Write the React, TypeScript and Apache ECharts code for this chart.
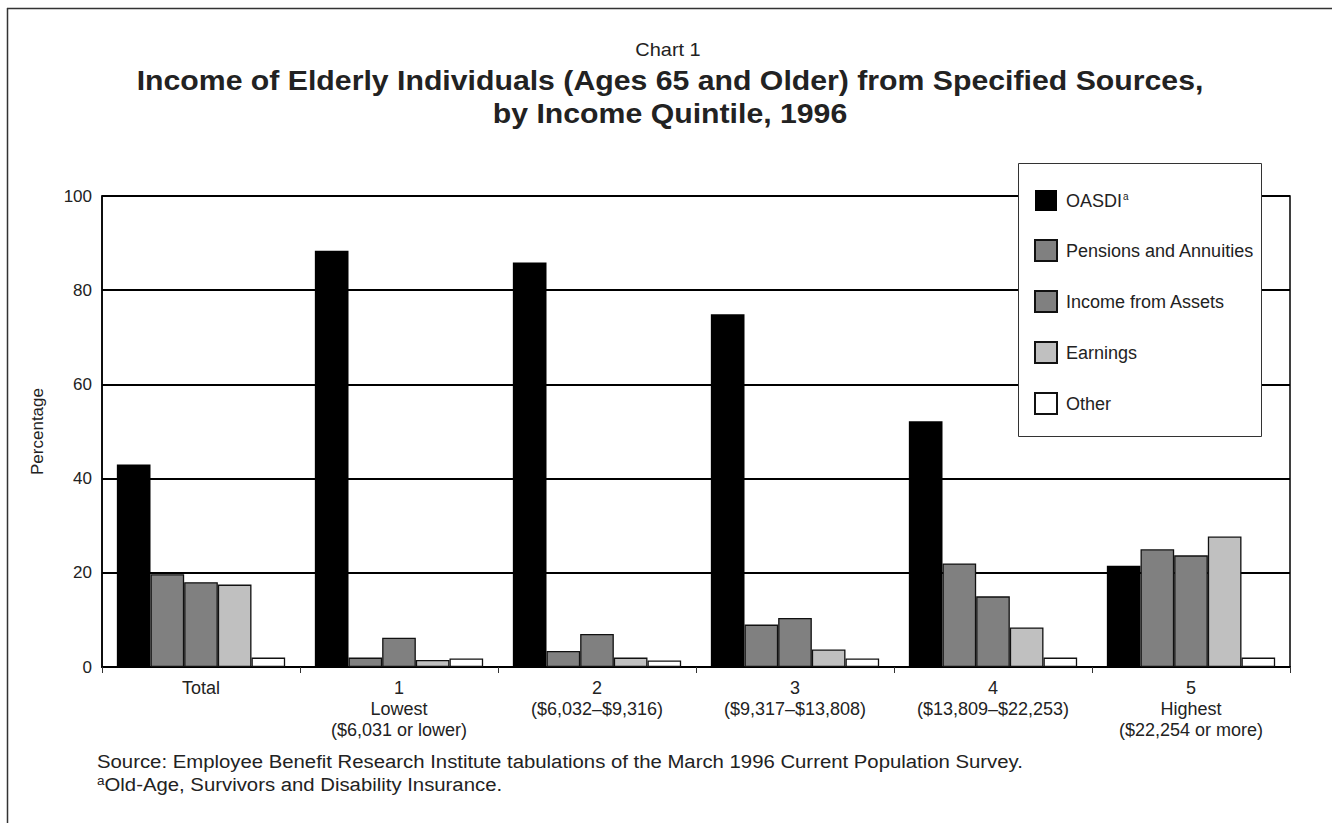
import React, { useEffect, useRef } from "react";
import * as echarts from "echarts";

const categories = [
  "Total",
  "1\nLowest\n($6,031 or lower)",
  "2\n($6,032–$9,316)",
  "3\n($9,317–$13,808)",
  "4\n($13,809–$22,253)",
  "5\nHighest\n($22,254 or more)",
];
const seriesNames = ["OASDI", "Pensions and Annuities", "Income from Assets", "Earnings", "Other"];
const oasdi = [43.0, 88.4, 85.9, 74.9, 52.2, 21.5];
const pensions = [19.7, 2.0, 3.4, 9.0, 22.0, 25.0];
const assets = [18.0, 6.2, 7.0, 10.4, 15.0, 23.7];
const earnings = [17.5, 1.5, 2.0, 3.7, 8.4, 27.7];
const other = [2.0, 1.8, 1.4, 1.8, 2.0, 2.0];
const seriesData = [oasdi, pensions, assets, earnings, other];
const colors = ["#000000", "#808080", "#808080", "#c0c0c0", "#ffffff"];
const yTicks = { min: 0, max: 100, interval: 20 };

const FONT = "'Liberation Sans', Arial, Helvetica, sans-serif";
const TXT = "#222222";

export default function App() {
  const ref = useRef<HTMLDivElement>(null);
  useEffect(() => {
    if (!ref.current) return;
    const chart = echarts.init(ref.current, undefined, { renderer: "svg" });
    const option: any = {
      animation: false,
      backgroundColor: "#ffffff",
      textStyle: { fontFamily: FONT },
      grid: {
        left: 102,
        right: 42,
        top: 196,
        bottom: 156,
        show: true,
        borderColor: "#000",
        borderWidth: 1.5,
      },
      legend: {
        orient: "vertical",
        left: 1034,
        top: 190,
        padding: 0,
        itemGap: 28,
        itemWidth: 22,
        itemHeight: 21,
        icon: "rect",
        z: 200,
        data: seriesNames,
        textStyle: {
          fontFamily: FONT,
          fontSize: 18,
          color: TXT,
          padding: [0, 0, 0, 4],
          rich: {
            n: { fontFamily: FONT, fontSize: 18, color: TXT },
            s: { fontFamily: FONT, fontSize: 10, color: TXT, verticalAlign: "top", padding: [0, 0, 9, 1] },
          },
        },
        formatter: (name: string) => (name === "OASDI" ? "{n|OASDI}{s|a}" : name),
      },
      xAxis: {
        type: "category",
        data: categories,
        axisLine: { show: true, lineStyle: { color: "#000", width: 2 } },
        axisTick: { show: true, length: 6, lineStyle: { color: "#333", width: 1 } },
        axisLabel: { fontFamily: FONT, fontSize: 18, color: TXT, lineHeight: 21, margin: 10, interval: 0 },
      },
      yAxis: {
        type: "value",
        min: yTicks.min,
        max: yTicks.max,
        interval: yTicks.interval,
        name: "Percentage",
        nameLocation: "middle",
        nameRotate: 90,
        nameGap: 56,
        nameTextStyle: { fontFamily: FONT, fontSize: 17, color: TXT },
        axisLine: { show: true, lineStyle: { color: "#000", width: 1.5 } },
        axisTick: { show: false },
        axisLabel: { fontFamily: FONT, fontSize: 17, color: TXT, margin: 10 },
        splitLine: { show: true, lineStyle: { color: "#000", width: 2.2 } },
      },
      series: seriesNames.map((name, i) => ({
        name,
        type: "bar",
        data: seriesData[i],
        barGap: "0%",
        barCategoryGap: "15%",
        itemStyle: {
          color: colors[i],
          borderColor: "#111",
          borderWidth: i === 0 ? 0 : 1.3,
        },
      })),
      graphic: [
        {
          type: "rect",
          z: 100,
          shape: { x: 1018.5, y: 163.5, width: 243, height: 273 },
          style: { fill: "#ffffff", stroke: "#333", lineWidth: 1 },
        },
        {
          type: "line",
          z: 100,
          shape: { x1: 7.5, y1: 8, x2: 7.5, y2: 823 },
          style: { stroke: "#333", lineWidth: 1.5 },
        },
        {
          type: "line",
          z: 100,
          shape: { x1: 7, y1: 8.5, x2: 1332, y2: 8.5 },
          style: { stroke: "#333", lineWidth: 1.5 },
        },
        {
          type: "text",
          z: 100,
          x: 668,
          y: 49,
          scaleX: 1.05,
          style: {
            text: "Chart 1",
            fontFamily: FONT,
            fontSize: 19,
            fill: TXT,
            align: "center",
            verticalAlign: "middle",
          },
        },
        {
          type: "text",
          z: 100,
          x: 670,
          y: 81,
          scaleX: 1.12,
          style: {
            text: "Income of Elderly Individuals (Ages 65 and Older) from Specified Sources,",
            fontFamily: FONT,
            fontSize: 27,
            fontWeight: "bold",
            fill: TXT,
            align: "center",
            verticalAlign: "middle",
          },
        },
        {
          type: "text",
          z: 100,
          x: 670,
          y: 114,
          scaleX: 1.12,
          style: {
            text: "by Income Quintile, 1996",
            fontFamily: FONT,
            fontSize: 27,
            fontWeight: "bold",
            fill: TXT,
            align: "center",
            verticalAlign: "middle",
          },
        },
        {
          type: "text",
          z: 100,
          x: 97,
          y: 762,
          scaleX: 1.13,
          style: {
            text: "Source: Employee Benefit Research Institute tabulations of the March 1996 Current Population Survey.",
            fontFamily: FONT,
            fontSize: 18,
            fill: TXT,
            verticalAlign: "middle",
          },
        },
        {
          type: "text",
          z: 100,
          x: 97,
          y: 785,
          scaleX: 1.13,
          style: {
            text: "{s|a}{n|Old-Age, Survivors and Disability Insurance.}",
            fontFamily: FONT,
            fontSize: 18,
            fill: TXT,
            verticalAlign: "middle",
            rich: {
              n: { fontFamily: FONT, fontSize: 18, fill: TXT },
              s: { fontFamily: FONT, fontSize: 12, fill: TXT, verticalAlign: "top", padding: [0, 0, 8, 0] },
            },
          },
        },
      ],
    };
    chart.setOption(option);
    return () => chart.dispose();
  }, []);
  return (
    <div
      ref={ref}
      style={{ position: "fixed", left: 0, top: 0, width: 1332, height: 823, background: "#fff" }}
    />
  );
}
